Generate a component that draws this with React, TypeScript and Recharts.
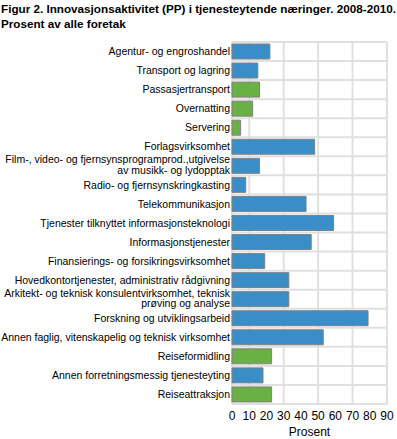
import React from 'react';
import { BarChart, Bar, XAxis, YAxis, CartesianGrid, Cell, Label } from 'recharts';

const categories = [
  'Agentur- og engroshandel',
  'Transport og lagring',
  'Passasjertransport',
  'Overnatting',
  'Servering',
  'Forlagsvirksomhet',
  'Film-, video- og fjernsynsprogramprod.,utgivelse\nav musikk- og lydopptak',
  'Radio- og fjernsynskringkasting',
  'Telekommunikasjon',
  'Tjenester tilknyttet informasjonsteknologi',
  'Informasjonstjenester',
  'Finansierings- og forsikringsvirksomhet',
  'Hovedkontortjenester, administrativ rådgivning',
  'Arkitekt- og teknisk konsulentvirksomhet, teknisk\nprøving og analyse',
  'Forskning og utviklingsarbeid',
  'Annen faglig, vitenskapelig og teknisk virksomhet',
  'Reiseformidling',
  'Annen forretningsmessig tjenesteyting',
  'Reiseattraksjon',
];

const values = [22, 15, 16, 12, 5, 48, 16, 8, 43, 59, 46, 19, 33, 33, 79, 53, 23, 18, 23];

// tourism-related industries are drawn green
const tourism = [false, false, true, true, true, false, false, false, false, false, false, false, false, false, false, false, true, false, true];

const xTicks = [0, 10, 20, 30, 40, 50, 60, 70, 80, 90];

const BLUE = '#3a8ec7';
const GREEN = '#69b145';
const FONT = '"Liberation Sans", Arial, sans-serif';

const data = categories.map((name, i) => ({ name, value: values[i], tourism: tourism[i] }));

const CategoryTick = (props: any) => {
  const { x, y, payload } = props;
  const lines: string[] = String(payload.value).split('\n');
  const lh = 10.5;
  const start = -((lines.length - 1) * lh) / 2 - (lines.length > 1 ? 1 : 0);
  return (
    <text x={x} y={y} textAnchor="end" fontSize={10.5} fontFamily={FONT} fill="#000">
      {lines.map((l, i) => (
        <tspan key={i} x={x} y={y + start + i * lh} dy="0.35em">{l}</tspan>
      ))}
    </text>
  );
};

export default function App() {
  return (
    <div style={{ position: 'absolute', left: 0, top: 0, width: 397, height: 439, background: '#fff' }}>
      <div style={{ position: 'absolute', left: 1, top: 1, fontFamily: FONT, fontWeight: 'bold', fontSize: 11.7, lineHeight: '15px', color: '#000', whiteSpace: 'nowrap' }}>
        Figur 2. Innovasjonsaktivitet (PP) i tjenesteytende næringer. 2008-2010.
        <br />
        Prosent av alle foretak
      </div>
      <BarChart
        width={397}
        height={439}
        data={data}
        layout="vertical"
        margin={{ top: 42, right: 10, left: 0, bottom: 0 }}
        barSize={15}
      >
        <CartesianGrid
          stroke="#e0e0e0"
          strokeWidth={2}
          horizontalCoordinatesGenerator={({ offset }: any) =>
            Array.from({ length: categories.length + 1 }, (_, i) => offset.top + (i * offset.height) / categories.length)
          }
        />
        <XAxis
          type="number"
          domain={[0, 90]}
          ticks={xTicks}
          axisLine={false}
          tickLine={false}
          tickSize={0}
          tickMargin={7}
          height={35}
          tick={{ fontSize: 12, fontFamily: FONT, fill: '#000' }}
        >
          <Label value="Prosent" position="insideBottom" offset={3} style={{ fontSize: 12, fontFamily: FONT, fill: '#000' }} />
        </XAxis>
        <YAxis
          type="category"
          dataKey="name"
          width={232}
          axisLine={false}
          tickLine={false}
          tickSize={0}
          tickMargin={2}
          interval={0}
          tick={<CategoryTick />}
        />
        <Bar dataKey="value" stroke="#808080" strokeWidth={1} isAnimationActive={false}>
          {data.map((d, i) => (
            <Cell key={i} fill={d.tourism ? GREEN : BLUE} />
          ))}
        </Bar>
      </BarChart>
    </div>
  );
}
